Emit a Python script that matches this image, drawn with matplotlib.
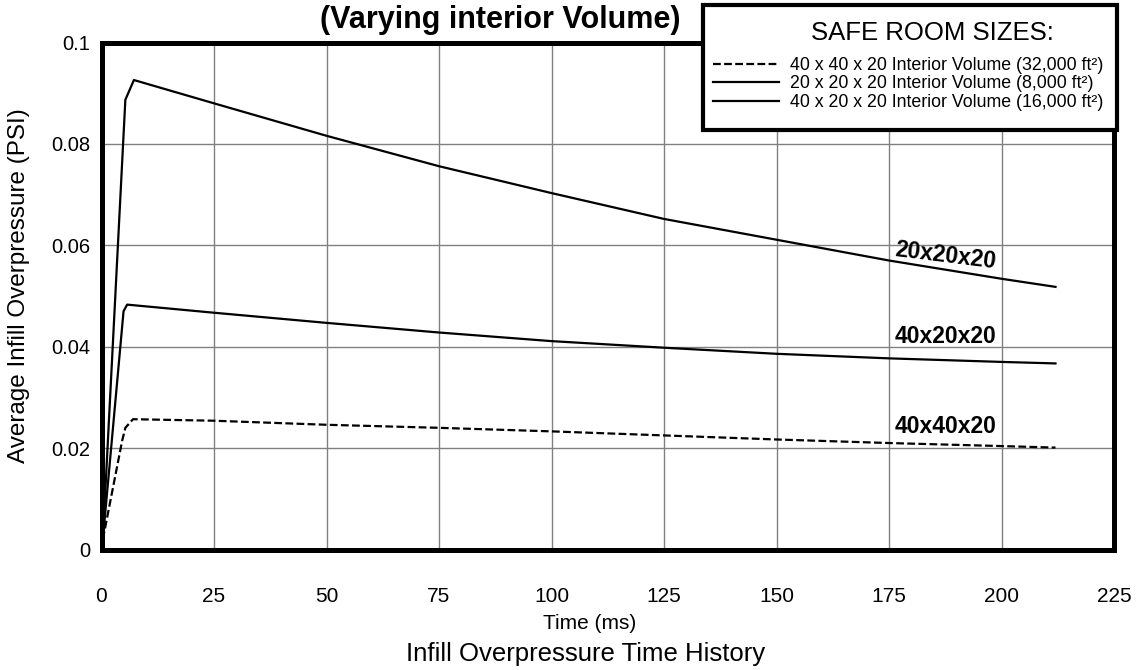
import matplotlib
matplotlib.use('Agg')
import matplotlib.pyplot as plt
from matplotlib.patches import Rectangle
from matplotlib.lines import Line2D

plt.rcParams['font.family'] = ['Liberation Sans', 'DejaVu Sans']

# time (ms) and average infill overpressure (psi)
t_40x40 = [0.3, 4.6, 5.3, 7.0, 25, 50, 75, 100, 125, 150, 175, 200, 212]
p_40x40 = [0.002, 0.0215, 0.0240, 0.0257, 0.0254, 0.0246, 0.0240, 0.0233,
           0.0225, 0.0217, 0.0210, 0.0204, 0.0201]

t_20x20 = [0.3, 5.3, 7.2, 25, 50, 75, 100, 125, 150, 175, 200, 212]
p_20x20 = [0.002, 0.0887, 0.0926, 0.0880, 0.0816, 0.0756, 0.0703, 0.0652,
           0.0611, 0.0570, 0.0534, 0.0518]

t_40x20 = [0.3, 4.9, 5.7, 25, 50, 75, 100, 125, 150, 175, 200, 212]
p_40x20 = [0.002, 0.0470, 0.0483, 0.0467, 0.0447, 0.0428, 0.0411, 0.0398,
           0.0386, 0.0377, 0.0370, 0.0367]

legend_labels = ["40 x 40 x 20 Interior Volume (32,000 ft\u00b2)",
                 "20 x 20 x 20 Interior Volume (8,000 ft\u00b2)",
                 "40 x 20 x 20 Interior Volume (16,000 ft\u00b2)"]
curve_names = ["40x40x20", "20x20x20", "40x20x20"]
x_ticks = [0, 25, 50, 75, 100, 125, 150, 175, 200, 225]
y_ticks = [0, 0.02, 0.04, 0.06, 0.08, 0.1]
y_tick_labels = ["0", "0.02", "0.04", "0.06", "0.08", "0.1"]

W, H = 1136, 670
fig = plt.figure(figsize=(W / 100.0, H / 100.0), dpi=100)
ax = fig.add_axes([101.5 / W, 1 - 549.5 / H, (1114 - 101.5) / W, 507.0 / H])

ax.plot(t_40x40, p_40x40, color='k', lw=1.6, dashes=(3.5, 1.5))
ax.plot(t_20x20, p_20x20, color='k', lw=1.6)
ax.plot(t_40x20, p_40x20, color='k', lw=1.6)

ax.set_xlim(0, 225)
ax.set_ylim(0, 0.1)
ax.set_xticks(x_ticks)
ax.set_yticks(y_ticks)
ax.set_yticklabels(y_tick_labels)
ax.tick_params(axis='x', length=0, pad=27, labelsize=15)
ax.tick_params(axis='y', length=0, pad=8, labelsize=14.5)
ax.grid(True, color='#808080', lw=1)
ax.set_axisbelow(True)
for sp in ax.spines.values():
    sp.set_linewidth(3.6)
    sp.set_color('k')

ax.set_xlabel("Time (ms)", fontsize=15)
ax.xaxis.set_label_coords(0.4825, -0.128)
ax.set_ylabel("Average Infill Overpressure (PSI)", fontsize=17.5)
ax.yaxis.set_label_coords(-0.071, 0.52)

# curve labels
ax.text(187.5, 0.0243, curve_names[0], fontsize=16.5, fontweight='bold',
        ha='center', va='center')
ax.text(187.5, 0.0579, curve_names[1], fontsize=16.5, fontweight='bold',
        ha='center', va='center', rotation=-7)
ax.text(187.5, 0.0421, curve_names[2], fontsize=16.5, fontweight='bold',
        ha='center', va='center')

fig.text(500 / W, 1 - 20 / H, "(Varying interior Volume)", fontsize=22,
         fontweight='bold', ha='center', va='center')
fig.text(586 / W, 1 - 654 / H, "Infill Overpressure Time History",
         fontsize=18.5, ha='center', va='center')

# legend box drawn over the top-right corner of the plot
box = Rectangle((703 / W, 1 - 130 / H), 414.0 / W, 125.0 / H,
                transform=fig.transFigure, facecolor='white',
                edgecolor='k', lw=3, zorder=4)
fig.add_artist(box)
fig.text(932 / W, 1 - 33 / H, "SAFE ROOM SIZES:", fontsize=18.5,
         ha='center', va='center', zorder=7)
handles = [Line2D([], [], color='k', lw=1.6, dashes=(3.5, 1.5)),
           Line2D([], [], color='k', lw=1.6),
           Line2D([], [], color='k', lw=1.6)]
leg = fig.legend(handles, legend_labels, loc='upper left',
                 bbox_to_anchor=(713 / W, 1 - 57 / H), frameon=False,
                 fontsize=12.8, handlelength=3.7, handletextpad=0.62,
                 labelspacing=0.08, borderpad=0, borderaxespad=0)
leg.set_zorder(6)

fig.savefig("out.png", dpi=100)
